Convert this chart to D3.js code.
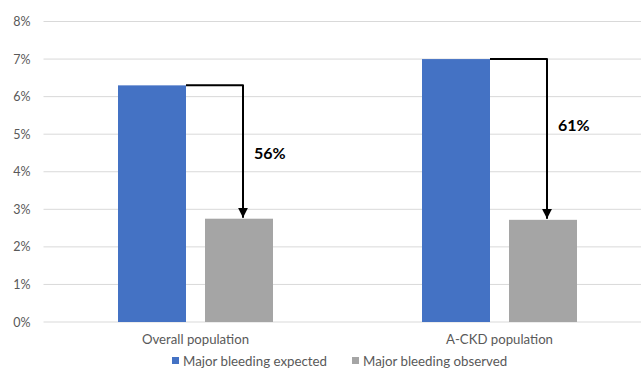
<!DOCTYPE html>
<html>
<head>
<meta charset="utf-8">
<script src="https://cdn.jsdelivr.net/npm/d3@7"></script>
<style>
  body { margin: 0; background: #fff; }
  svg { font-family: Lato, "Open Sans", sans-serif; }
</style>
</head>
<body>
<svg id="chart"></svg>
<script>
const categories = ["Overall population", "A-CKD population"];
const seriesNames = ["Major bleeding expected", "Major bleeding observed"];
const expected = [6.3, 7.0];
const observed = [2.75, 2.72];
const reductionLabels = ["56%", "61%"];
const reductionLabelAt = [4.5, 5.25]; // y value (in %) where the label sits
const yTicks = [0, 1, 2, 3, 4, 5, 6, 7, 8];
const colors = ["#4472c4", "#a5a5a5"];

const W = 641, H = 369;
const margin = { top: 21.5, right: -10.5, bottom: 47, left: 43.5 };
const width = W - margin.left - margin.right,
      height = H - margin.top - margin.bottom;

const svg = d3.select("#chart").attr("width", W).attr("height", H);
const g = svg.append("g").attr("transform", `translate(${margin.left},${margin.top})`);

const x = d3.scaleBand().domain(categories).range([0, width]).paddingInner(0).paddingOuter(0);
const xSub = d3.scaleBand().domain(seriesNames).range([0, 155]).paddingInner(19 / 87);
const y = d3.scaleLinear().domain([0, 8]).range([height, 0]);

// gridlines
g.append("g")
  .selectAll("line")
  .data(yTicks)
  .join("line")
    .attr("x1", 0).attr("x2", width)
    .attr("y1", d => y(d)).attr("y2", d => y(d))
    .attr("stroke", "#d9d9d9").attr("stroke-width", 1);

// y axis labels
const yAxis = g.append("g")
  .call(d3.axisLeft(y).tickValues(yTicks).tickFormat(d => d + "%").tickSize(0).tickPadding(13));
yAxis.select(".domain").remove();
yAxis.selectAll("text").attr("fill", "#595959").style("font-size", "12.5px").style("font-family", "Lato, sans-serif");

// bars
const data = categories.map((c, i) => ({ cat: c, vals: [expected[i], observed[i]] }));
const groupOffset = (x.bandwidth() - 155) / 2;

const grp = g.selectAll(".grp")
  .data(data)
  .join("g")
  .attr("class", "grp")
  .attr("transform", d => `translate(${x(d.cat) + groupOffset},0)`);

grp.selectAll("rect")
  .data(d => d.vals.map((v, j) => ({ key: seriesNames[j], v, j })))
  .join("rect")
    .attr("x", d => xSub(d.key))
    .attr("y", d => y(d.v))
    .attr("width", xSub.bandwidth())
    .attr("height", d => y(0) - y(d.v))
    .attr("fill", d => colors[d.j]);

// arrows
svg.append("defs").append("marker")
  .attr("id", "arrow")
  .attr("viewBox", "0 0 10 10")
  .attr("refX", 10).attr("refY", 5)
  .attr("markerWidth", 5).attr("markerHeight", 5)
  .attr("markerUnits", "strokeWidth")
  .attr("orient", "auto")
  .append("path").attr("d", "M0,0L10,5L0,10z").attr("fill", "#000");

grp.append("path")
  .attr("d", d => {
    const x0 = xSub(seriesNames[0]) + xSub.bandwidth();
    const xa = xSub(seriesNames[1]) + xSub.bandwidth() / 2 + 4;
    return `M${x0},${y(d.vals[0])}H${xa}V${y(d.vals[1]) - 1}`;
  })
  .attr("fill", "none")
  .attr("stroke", "#000")
  .attr("stroke-width", 2)
  .attr("stroke-linejoin", "round")
  .attr("marker-end", "url(#arrow)");

grp.append("text")
  .attr("x", xSub(seriesNames[1]) + xSub.bandwidth() / 2 + 15)
  .attr("y", (d, i) => y(reductionLabelAt[i]) + 6)
  .text((d, i) => reductionLabels[i])
  .style("font-size", "16px")
  .style("font-weight", "bold")
  .attr("fill", "#000");

// category labels
g.append("g")
  .selectAll("text")
  .data(categories)
  .join("text")
    .attr("x", d => x(d) + x.bandwidth() / 2)
    .attr("y", height + 22)
    .attr("text-anchor", "middle")
    .attr("fill", "#595959")
    .style("font-size", "13.2px")
    .text(d => d);

// legend
const legendX = [172, 352];
const legend = svg.append("g");
seriesNames.forEach((s, i) => {
  legend.append("rect")
    .attr("x", legendX[i]).attr("y", 357)
    .attr("width", 7).attr("height", 7)
    .attr("fill", colors[i]);
  legend.append("text")
    .attr("x", legendX[i] + 11).attr("y", 365.5)
    .attr("fill", "#595959")
    .style("font-size", "13.3px")
    .text(s);
});
</script>
</body>
</html>
